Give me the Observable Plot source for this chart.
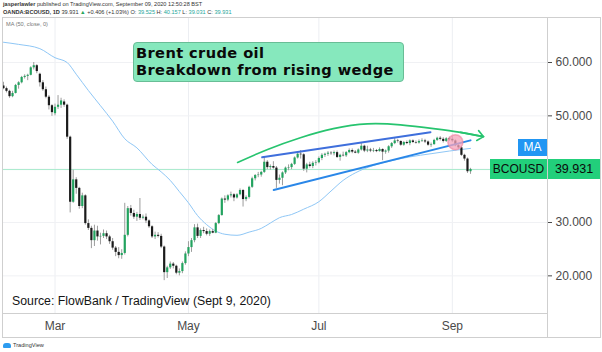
<!DOCTYPE html>
<html><head><meta charset="utf-8">
<script src="https://cdn.jsdelivr.net/npm/d3@7"></script>
<script src="https://cdn.jsdelivr.net/npm/@observablehq/plot@0.6"></script>
<style>
html,body{margin:0;padding:0;background:#fff;}
#wrap{position:relative;width:602px;height:352px;overflow:hidden;font-family:"Liberation Sans",Arial,sans-serif;}
#wrap svg{position:absolute;left:0;top:0;}
.ov{position:absolute;white-space:nowrap;}
</style></head><body><div id="wrap"></div><script>
const dates = ["2020-02-06","2020-02-07","2020-02-10","2020-02-11","2020-02-12","2020-02-13","2020-02-14","2020-02-17","2020-02-18","2020-02-19","2020-02-20","2020-02-21","2020-02-24","2020-02-25","2020-02-26","2020-02-27","2020-02-28",
"2020-03-02","2020-03-03","2020-03-04","2020-03-05","2020-03-06","2020-03-09","2020-03-10","2020-03-11","2020-03-12","2020-03-13","2020-03-16","2020-03-17","2020-03-18","2020-03-19","2020-03-20","2020-03-23","2020-03-24","2020-03-25","2020-03-26","2020-03-27","2020-03-30","2020-03-31",
"2020-04-01","2020-04-02","2020-04-03","2020-04-06","2020-04-07","2020-04-08","2020-04-09","2020-04-10","2020-04-13","2020-04-14","2020-04-15","2020-04-16","2020-04-17","2020-04-20","2020-04-21","2020-04-22","2020-04-23","2020-04-24","2020-04-27","2020-04-28","2020-04-29","2020-04-30",
"2020-05-01","2020-05-04","2020-05-05","2020-05-06","2020-05-07","2020-05-08","2020-05-11","2020-05-12","2020-05-13","2020-05-14","2020-05-15","2020-05-18","2020-05-19","2020-05-20","2020-05-21","2020-05-22","2020-05-25","2020-05-26","2020-05-27","2020-05-28","2020-05-29",
"2020-06-01","2020-06-02","2020-06-03","2020-06-04","2020-06-05","2020-06-08","2020-06-09","2020-06-10","2020-06-11","2020-06-12","2020-06-15","2020-06-16","2020-06-17","2020-06-18","2020-06-19","2020-06-22","2020-06-23","2020-06-24","2020-06-25","2020-06-26","2020-06-29","2020-06-30",
"2020-07-01","2020-07-02","2020-07-03","2020-07-06","2020-07-07","2020-07-08","2020-07-09","2020-07-10","2020-07-13","2020-07-14","2020-07-15","2020-07-16","2020-07-17","2020-07-20","2020-07-21","2020-07-22","2020-07-23","2020-07-24","2020-07-27","2020-07-28","2020-07-29","2020-07-30","2020-07-31",
"2020-08-03","2020-08-04","2020-08-05","2020-08-06","2020-08-07","2020-08-10","2020-08-11","2020-08-12","2020-08-13","2020-08-14","2020-08-17","2020-08-18","2020-08-19","2020-08-20","2020-08-21","2020-08-24","2020-08-25","2020-08-26","2020-08-27","2020-08-28","2020-08-31",
"2020-09-01","2020-09-02","2020-09-03","2020-09-04","2020-09-07","2020-09-08","2020-09-09"];

const open = [55.6,55.1,54.6,53.6,54.2,55.7,56.2,57.2,57.4,57.6,59.0,59.4,57.8,56.2,54.9,53.5,51.9,
50.4,51.6,52.0,52.6,52.0,46.0,33.8,38.0,36.4,33.0,35.0,29.8,28.9,26.6,28.4,27.3,27.4,27.9,27.3,26.4,25.2,24.4,
23.8,24.2,27.6,32.6,31.7,31.0,31.5,30.8,31.0,30.3,29.2,27.3,27.6,27.4,25.4,20.6,21.5,22.2,21.8,20.5,20.8,22.3,
24.1,25.3,26.6,29.0,27.4,28.5,28.3,27.8,28.3,28.0,29.8,31.3,34.4,34.2,35.0,35.2,34.6,35.2,36.0,34.3,34.7,
36.6,38.2,38.8,38.9,39.4,41.3,40.3,40.5,40.2,37.9,38.3,39.3,40.2,40.3,40.9,42.1,42.8,42.7,40.0,40.8,40.5,41.1,
41.2,42.0,42.6,42.8,43.0,42.9,43.1,42.2,42.6,42.5,43.1,43.5,43.2,43.0,43.6,44.3,43.4,43.6,43.4,43.5,43.3,43.7,43.2,
43.4,44.2,44.8,45.3,45.2,44.5,45.0,44.8,45.3,45.0,44.9,45.2,45.3,45.1,44.5,44.6,45.4,45.8,45.6,45.2,45.7,
45.6,45.3,44.4,44.0,42.6,41.9,39.525];
const high = [56.3,55.4,54.8,54.6,55.9,56.4,57.4,57.7,57.8,59.2,60.0,59.6,58.0,56.6,55.4,53.8,52.1,
52.2,53.8,53.3,53.0,52.2,46.2,39.8,38.4,36.6,35.5,35.2,30.5,29.3,29.5,29.3,28.0,28.6,28.4,27.6,27.0,25.5,25.3,
24.9,33.6,33.0,33.2,32.3,31.9,34.5,31.4,31.6,30.5,29.4,28.2,28.1,27.8,25.6,21.8,22.6,22.5,22.0,21.3,22.6,24.5,
26.4,27.0,29.6,29.7,28.8,29.1,28.8,28.6,28.7,30.0,31.5,34.6,35.0,35.2,35.7,35.4,35.4,36.3,36.2,35.0,36.8,
38.5,39.0,39.4,39.6,42.3,41.6,40.8,41.4,40.5,38.9,39.5,40.4,40.8,41.1,42.3,43.1,43.5,42.9,41.1,41.3,41.4,41.6,
42.3,42.9,43.0,43.3,43.3,43.4,43.4,42.8,43.2,43.3,43.8,43.8,43.5,43.8,44.8,44.5,44.3,43.9,43.9,43.7,44.0,43.8,43.6,
44.4,45.0,45.9,45.6,45.3,45.2,45.3,45.5,45.5,45.3,45.5,45.7,45.6,45.3,44.9,45.6,46.0,46.1,45.9,45.9,46.0,
46.1,45.5,44.8,44.2,42.8,42.1,40.157];
const low = [54.9,54.3,53.3,53.4,54.1,55.0,56.0,56.9,56.6,57.5,58.6,57.9,55.4,54.6,53.2,51.1,49.9,
50.0,51.2,51.4,51.6,45.6,31.8,33.6,35.3,32.5,32.6,29.5,28.5,25.1,25.5,26.5,25.8,27.0,26.8,25.9,24.8,23.6,23.2,
23.1,23.9,27.3,31.2,30.6,30.2,30.4,30.5,29.8,28.9,27.0,26.8,27.1,25.1,19.1,19.5,21.2,21.3,20.2,20.0,20.4,22.0,
23.6,24.4,26.2,27.0,27.0,27.9,27.5,27.4,27.9,27.9,29.6,31.2,33.6,33.9,34.6,33.9,34.4,35.0,32.9,33.9,34.4,
36.4,37.8,38.4,38.5,39.2,39.9,39.8,40.0,36.4,37.2,36.9,39.0,39.7,39.9,40.7,41.9,41.9,39.6,39.3,40.2,40.1,40.6,
41.0,41.6,42.2,42.4,42.6,42.5,42.0,41.5,42.3,42.2,42.9,42.9,42.9,42.8,43.4,43.1,43.1,43.1,43.1,43.1,43.2,41.6,42.8,
43.0,43.9,44.6,44.9,44.3,44.3,44.6,44.4,44.8,44.7,44.7,45.0,44.8,44.3,44.1,44.5,45.2,45.3,44.9,45.0,45.2,
45.0,44.2,43.8,42.4,41.5,39.2,39.031];
const close = [55.1,54.6,53.6,54.2,55.7,56.2,57.2,57.4,57.6,59.0,59.4,58.3,56.2,54.9,53.5,51.9,50.6,
51.6,52.0,52.8,52.0,46.0,33.8,38.0,36.4,33.0,35.0,29.8,28.9,26.6,28.4,27.3,27.4,27.9,27.3,26.4,25.2,24.4,23.8,
24.2,27.6,32.6,31.7,31.0,31.5,30.8,31.0,30.3,29.2,27.3,27.6,27.4,25.4,20.6,21.5,22.2,21.8,20.5,20.8,22.3,24.1,
25.3,26.6,29.0,27.4,28.5,28.3,27.8,28.3,28.0,29.8,31.3,34.4,34.2,35.0,35.2,34.6,35.2,36.0,34.3,34.7,36.6,
38.2,38.8,38.9,39.4,41.3,40.3,40.5,40.2,37.9,38.3,39.3,40.2,40.3,40.9,42.1,42.8,42.7,40.0,40.8,40.5,41.1,41.2,
42.0,42.6,42.8,43.0,42.9,43.1,42.2,42.6,42.5,43.1,43.5,43.2,43.0,43.6,44.3,43.4,43.6,43.4,43.5,43.3,43.7,43.2,43.4,
44.2,44.8,45.3,45.2,44.5,45.0,44.8,45.3,45.0,44.9,45.2,45.3,45.1,44.5,44.6,45.4,45.8,45.6,45.2,45.7,45.5,
45.3,44.4,44.0,42.6,41.9,39.525,39.931];

// 50-day moving average
const maDates = ["2020-02-06","2020-02-13","2020-02-24","2020-03-02","2020-03-06","2020-03-11","2020-03-17","2020-03-23","2020-03-27","2020-04-02","2020-04-08","2020-04-15","2020-04-20","2020-04-23","2020-04-28","2020-05-01","2020-05-06","2020-05-11","2020-05-14","2020-05-19","2020-05-25","2020-05-29","2020-06-04","2020-06-09","2020-06-12","2020-06-18","2020-06-24","2020-07-01","2020-07-07","2020-07-13","2020-07-17","2020-07-27","2020-08-04","2020-08-12","2020-08-21","2020-08-31","2020-09-09"];
const maValues = [63.8,63.4,62.6,60.9,60.0,57.8,54.75,51.9,49.0,45.7,44.0,40.9,39.5,37.9,35.8,33.7,31.3,29.6,28.4,27.8,27.6,28.2,28.9,29.9,30.9,31.5,32.5,33.9,35.9,37.9,39.3,40.7,41.6,42.3,42.9,43.4,43.9];

const monthTicks = ["2020-03-02","2020-05-01","2020-07-01","2020-09-01"];
const monthLabels = ["Mar","May","Jul","Sep"];
const priceTicks = [20, 30, 50, 60];
const gridPrices = [20, 30, 40, 50, 60];

// drawn annotations, in (bar index, price) units
const arcIndex = [77.2, 87.1, 97.9, 108.8, 120.0, 130.9, 141.8, 150.7, 158.3];
const arcPrice = [41.25, 43.7, 45.9, 47.6, 48.5, 48.3, 47.6, 46.9, 46.1];
const wedgeUpperIndex = [85.3, 140.8];
const wedgeUpperPrice = [42.24, 46.93];
const wedgeLowerIndex = [89.1, 154.0];
const wedgeLowerPrice = [36.1, 45.4];
const breakIndex = [149.0];
const breakPrice = [45.06];

const bars = dates.map((d, i) => ({i, date: d, open: open[i], high: high[i], low: low[i], close: close[i]}));
const maRows = maDates.map((d, k) => ({i: dates.indexOf(d), v: maValues[k]}));
const tickIdx = monthTicks.map(d => dates.indexOf(d));
const pts = (xs, ys) => xs.map((x, k) => ({i: x, v: ys[k]}));
const arcRows = pts(arcIndex, arcPrice);
const lastClose = close[close.length - 1];
const lastMA = maValues[maValues.length - 1];

const plot = Plot.plot({
  width: 602, height: 352,
  marginLeft: 2, marginRight: 55, marginTop: 17, marginBottom: 39,
  style: {fontFamily: "Liberation Sans, Arial, sans-serif", fontSize: "12px", color: "#4a4a4a", background: "transparent"},
  x: {domain: [-0.31, 179.38], ticks: tickIdx, tickFormat: d => monthLabels[tickIdx.indexOf(d)], tickSize: 0, tickPadding: 8, label: null},
  y: {domain: [12.94, 68.44], axis: "right", ticks: priceTicks, tickFormat: d3.format(".3f"), tickSize: 4, tickPadding: 4, label: null},
  marks: [
    Plot.ruleX(tickIdx, {stroke: "#eceef2"}),
    Plot.ruleY(gridPrices, {stroke: "#f0f1f4"}),
    Plot.ruleY([lastClose], {stroke: "#a9eacd"}),
    Plot.line(maRows, {x: "i", y: "v", stroke: "#8fc7f6", strokeWidth: 1, curve: "monotone-x"}),
    Plot.ruleX(bars, {x: "i", y1: "low", y2: "high", stroke: "#9c9c9c", strokeWidth: 1}),
    Plot.ruleX(bars, {x: "i", y1: "open", y2: "close", stroke: d => d.close >= d.open ? "#22a35f" : "#1b1b1b", strokeWidth: 2.2}),
    Plot.line(pts(wedgeUpperIndex, wedgeUpperPrice), {x: "i", y: "v", stroke: "#3f6fdc", strokeWidth: 2}),
    Plot.line(pts(wedgeLowerIndex, wedgeLowerPrice), {x: "i", y: "v", stroke: "#2a87e8", strokeWidth: 2}),
    Plot.line(arcRows, {x: "i", y: "v", stroke: "#27c46f", strokeWidth: 1.6, curve: "natural"}),
    Plot.arrow([arcRows[arcRows.length - 2]], {x1: "i", y1: "v", x2: () => arcRows[arcRows.length - 1].i, y2: () => arcRows[arcRows.length - 1].v, stroke: "#27c46f", strokeWidth: 1.6, headLength: 9, headAngle: 80}),
    Plot.dot(pts(breakIndex, breakPrice), {x: "i", y: "v", r: 7.5, fill: "#f5a3bb", fillOpacity: 0.75, stroke: "#ee7f9f", strokeOpacity: 0.6}),
    Plot.frame({stroke: "#cfcfcf"})
  ]
});

const wrap = document.getElementById("wrap");
wrap.appendChild(plot);
const ys = plot.scale("y");
const xs = plot.scale("x");
const plotRight = xs.range[1];

function ov(html, css) {
  const d = document.createElement("div");
  d.className = "ov";
  d.innerHTML = html;
  Object.assign(d.style, css);
  wrap.appendChild(d);
  return d;
}
// outer frame & axis box
ov("", {left: "2px", top: "17px", width: "597px", height: "319px", border: "1px solid #cfcfcf"});
ov("", {left: plotRight + "px", top: "313px", width: "1px", height: "24px", background: "#cfcfcf"});

// header
ov('<b>jasperlawler</b> published on TradingView.com, September 09, 2020 12:50:28 BST',
   {left: "3px", top: "1px", fontSize: "5.6px", color: "#333", lineHeight: "7px"});
ov('<b>OANDA:BCOUSD, 1D</b> 39.931 <span style="color:#26a65b">▲</span> +0.406 (+1.03%) O: <span style="color:#26a69a">39.525</span> H: <span style="color:#26a69a">40.157</span> L: <span style="color:#26a69a">39.031</span> C: <span style="color:#26a69a">39.931</span>',
   {left: "3px", top: "8.5px", fontSize: "5.6px", color: "#333", lineHeight: "7px"});
ov('MA (50, close, 0)', {left: "6px", top: "21px", fontSize: "5.6px", color: "#777", lineHeight: "7px"});

// title box
const tb = ov('', {left: "133px", top: "42px", width: "269px", height: "38px", background: "#86e8bd", border: "1px solid #69bd96", borderRadius: "4px"});
const titleCss = {left: "136px", fontFamily: "'DejaVu Sans', Verdana, sans-serif", fontWeight: "bold", fontSize: "14.6px", letterSpacing: "0.4px", lineHeight: "17px", color: "#0a0a0a"};
ov('Brent crude oil', Object.assign({top: "43.5px"}, titleCss));
ov('Breakdown from rising wedge', Object.assign({top: "60.5px"}, titleCss));

// source caption
ov('Source: FlowBank / TradingView (Sept 9, 2020)', {left: "12px", top: "294px", fontSize: "12.3px", color: "#151515", lineHeight: "14px"});

// right-side labels
const yMA = ys.apply(lastMA), yP = ys.apply(lastClose);
ov('MA', {left: (plotRight - 29) + "px", top: (yMA - 8.5) + "px", width: "29px", height: "17px", background: "#2196f3", color: "#fff",
  fontSize: "12px", lineHeight: "17px", textAlign: "center"});
ov('BCOUSD', {left: (plotRight - 57) + "px", top: (yP - 10) + "px", width: "57px", height: "20px", background: "#22cf7b", color: "#0b0b0b",
  fontSize: "12px", lineHeight: "20px", textAlign: "center"});
ov(d3.format(".3f")(lastClose), {left: (plotRight + 1) + "px", top: (yP - 10) + "px", width: "52px", height: "20px", background: "#22cf7b", color: "#0b0b0b",
  fontSize: "12.5px", lineHeight: "20px", textAlign: "center"});

// TradingView logo
ov('<span style="display:inline-block;width:8px;height:5px;background:#2d9cf0;border-radius:3px 3px 1px 1px;vertical-align:middle;margin-right:2px"></span>TradingView',
   {left: "3px", top: "342px", fontSize: "5.6px", color: "#333", lineHeight: "7px"});
</script></body></html>
